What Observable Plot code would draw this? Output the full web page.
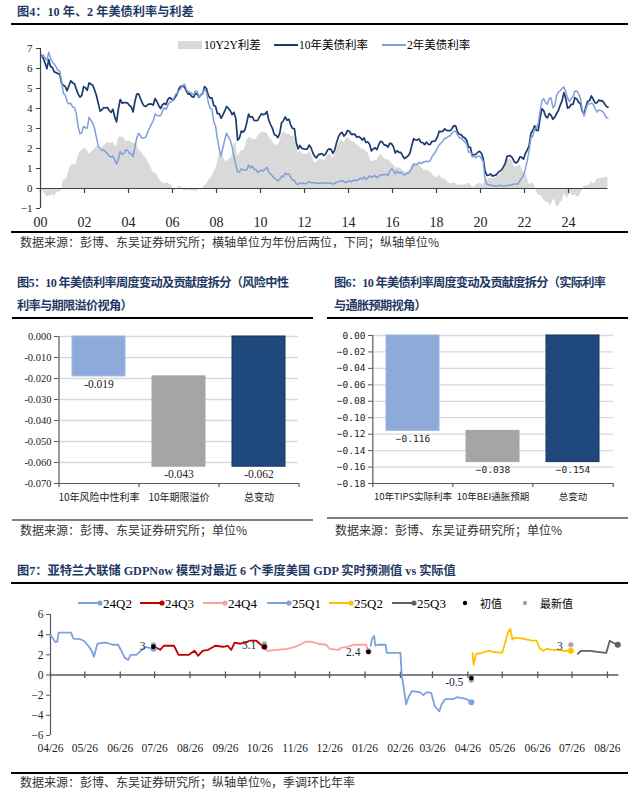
<!DOCTYPE html>
<html><head><meta charset="utf-8">
<script src="https://cdn.jsdelivr.net/npm/d3@7"></script>
<script src="https://cdn.jsdelivr.net/npm/@observablehq/plot@0.6"></script>
<style>
body{margin:0;background:#fff;}
#page{position:relative;width:640px;height:798px;overflow:hidden;background:#fff;}
</style></head><body><div id="page"></div>
<script>
// ---------------- DATA ----------------
// Fig 4: monthly 10Y and 2Y UST yields, Jan 2000 - Oct 2025 (%)
const startYear = 2000;
const t10 = [
6.66,6.52,6.26,5.99,6.44,6.10,6.05,5.83,5.80,5.74,5.72,5.24,
5.16,5.10,4.89,5.14,5.39,5.28,5.24,4.97,4.73,4.57,4.65,5.09,
5.04,4.91,5.28,5.21,5.16,4.93,4.65,4.26,3.87,3.94,4.05,4.03,
4.05,3.90,3.81,3.96,3.57,3.33,3.98,4.45,4.27,4.29,4.30,4.27,
4.15,4.08,3.83,4.35,4.72,4.73,4.50,4.28,4.13,4.10,4.19,4.23,
4.22,4.17,4.50,4.34,4.14,4.00,4.18,4.26,4.20,4.46,4.54,4.47,
4.42,4.57,4.72,4.99,5.11,5.11,5.09,4.88,4.72,4.73,4.60,4.56,
4.76,4.72,4.56,4.69,4.75,5.10,5.00,4.67,4.52,4.53,4.15,4.10,
3.74,3.74,3.51,3.68,3.88,4.10,4.01,3.89,3.69,3.81,3.53,2.42,
2.52,2.87,2.82,2.93,3.29,3.72,3.56,3.59,3.40,3.39,3.40,3.59,
3.73,3.69,3.73,3.85,3.42,3.20,3.01,2.70,2.65,2.54,2.76,3.29,
3.39,3.58,3.41,3.46,3.17,3.00,3.00,2.30,1.98,2.15,2.01,1.98,
1.97,1.97,2.17,2.05,1.80,1.62,1.53,1.68,1.72,1.75,1.65,1.72,
1.91,1.98,1.96,1.76,1.93,2.30,2.58,2.74,2.81,2.62,2.72,2.90,
2.86,2.71,2.72,2.71,2.56,2.60,2.54,2.42,2.53,2.30,2.33,2.21,
1.88,1.98,2.04,1.94,2.20,2.36,2.32,2.17,2.17,2.07,2.26,2.24,
2.09,1.78,1.89,1.81,1.81,1.64,1.50,1.56,1.63,1.76,2.14,2.49,
2.43,2.42,2.48,2.30,2.30,2.19,2.32,2.21,2.20,2.36,2.35,2.40,
2.58,2.86,2.84,2.87,2.98,2.91,2.89,2.89,3.00,3.15,3.12,2.83,
2.71,2.68,2.57,2.53,2.40,2.07,2.06,1.63,1.70,1.71,1.81,1.86,
1.76,1.50,0.87,0.66,0.67,0.73,0.62,0.65,0.68,0.79,0.87,0.93,
1.08,1.26,1.61,1.64,1.62,1.52,1.32,1.28,1.37,1.58,1.56,1.47,
1.76,1.93,2.13,2.75,2.90,3.14,2.90,2.90,3.52,3.98,3.89,3.62,
3.53,3.75,3.66,3.46,3.57,3.75,3.90,4.17,4.38,4.80,4.50,4.02,
4.06,4.21,4.21,4.54,4.48,4.31,4.25,3.87,3.72,4.10,4.36,4.39,
4.63,4.45,4.28,4.28,4.42,4.38,4.39,4.26,4.12,4.06];
const t2 = [
6.58,6.68,6.53,6.40,6.81,6.48,6.34,6.23,6.08,5.91,5.88,5.35,
4.76,4.66,4.34,4.23,4.26,4.08,4.04,3.76,3.12,2.73,2.78,3.11,
3.03,3.02,3.56,3.42,3.26,2.99,2.56,2.13,2.00,1.91,1.92,1.84,
1.74,1.63,1.57,1.62,1.42,1.23,1.47,1.86,1.71,1.75,1.93,1.91,
1.76,1.74,1.58,2.07,2.53,2.76,2.64,2.51,2.53,2.58,2.85,3.01,
3.22,3.38,3.73,3.65,3.64,3.64,3.87,4.04,3.95,4.17,4.33,4.35,
4.45,4.68,4.77,4.90,5.00,5.16,5.22,4.97,4.82,4.83,4.74,4.67,
4.88,4.85,4.57,4.67,4.77,4.96,4.82,4.31,4.01,3.97,3.34,3.12,
2.48,1.97,1.62,2.05,2.45,2.77,2.57,2.42,2.08,1.61,1.21,0.82,
0.81,0.98,0.93,0.93,0.92,1.18,1.02,1.12,0.96,0.95,0.80,0.87,
0.93,0.86,0.96,1.06,0.83,0.72,0.62,0.52,0.47,0.38,0.45,0.62,
0.58,0.77,0.70,0.73,0.56,0.41,0.41,0.23,0.20,0.28,0.25,0.26,
0.24,0.28,0.34,0.29,0.29,0.29,0.25,0.27,0.26,0.28,0.27,0.26,
0.27,0.27,0.26,0.23,0.25,0.33,0.34,0.36,0.40,0.34,0.30,0.34,
0.39,0.33,0.40,0.42,0.39,0.45,0.51,0.47,0.57,0.45,0.53,0.64,
0.55,0.62,0.64,0.54,0.61,0.69,0.67,0.70,0.71,0.64,0.88,0.98,
0.90,0.73,0.88,0.77,0.82,0.73,0.67,0.74,0.77,0.84,0.98,1.20,
1.21,1.20,1.31,1.24,1.30,1.34,1.37,1.34,1.38,1.58,1.71,1.84,
2.03,2.18,2.28,2.38,2.51,2.53,2.61,2.64,2.77,2.86,2.86,2.68,
2.54,2.50,2.41,2.34,2.21,1.81,1.84,1.57,1.65,1.53,1.61,1.61,
1.52,1.33,0.45,0.22,0.17,0.19,0.14,0.14,0.13,0.14,0.17,0.13,
0.13,0.12,0.15,0.16,0.16,0.20,0.22,0.22,0.23,0.39,0.52,0.68,
0.99,1.39,1.91,2.54,2.61,3.00,3.03,3.25,3.86,4.38,4.50,4.29,
4.21,4.51,4.52,4.04,4.13,4.64,4.83,4.88,5.02,5.07,4.85,4.53,
4.34,4.50,4.59,4.86,4.88,4.74,4.50,3.97,3.62,3.97,4.23,4.23,
4.27,4.21,4.00,3.82,3.92,3.90,3.87,3.74,3.55,3.52];
const fig4YTicks = [-1,0,1,2,3,4,5,6,7];
const fig4XTicks = [2000,2002,2004,2006,2008,2010,2012,2014,2016,2018,2020,2022,2024];
const fig4Names = ["10Y2Y利差","10年美债利率","2年美债利率"];

// Fig 5
const fig5Cats = ["10年风险中性利率","10年期限溢价","总变动"];
const fig5Vals = [-0.019,-0.043,-0.062];
const fig5Ticks = [0,-0.01,-0.02,-0.03,-0.04,-0.05,-0.06,-0.07];
// Fig 6
const fig6Cats = ["10年TIPS实际利率","10年BEI通胀预期","总变动"];
const fig6Vals = [-0.116,-0.038,-0.154];
const fig6Ticks = [0,-0.02,-0.04,-0.06,-0.08,-0.10,-0.12,-0.14,-0.16,-0.18];
const barColors = ["#8eaadb","#a5a5a5","#1f497d"];

// Fig 7: GDPNow estimates by quarter
const q24Q2 = [["2024-04-26",4.0],["2024-04-30",3.3],["2024-05-02",3.3],["2024-05-03",4.2],["2024-05-14",4.2],["2024-05-16",3.6],["2024-05-22",3.55],["2024-05-25",3.4],["2024-05-29",2.9],["2024-06-01",2.4],["2024-06-03",1.8],["2024-06-06",3.1],["2024-06-11",3.2],["2024-06-14",3.2],["2024-06-19",3.0],["2024-06-24",3.0],["2024-06-27",2.4],["2024-06-30",1.7],["2024-07-03",1.5],["2024-07-05",2.0],["2024-07-10",2.0],["2024-07-15",2.5],["2024-07-18",2.8],["2024-07-25",2.6]];
const q24Q3 = [["2024-07-26",2.8],["2024-07-31",2.5],["2024-08-03",2.9],["2024-08-12",2.9],["2024-08-16",2.0],["2024-08-25",2.0],["2024-08-30",2.4],["2024-09-02",1.9],["2024-09-06",2.4],["2024-09-11",2.5],["2024-09-17",2.9],["2024-09-24",2.8],["2024-09-28",2.9],["2024-10-01",2.5],["2024-10-04",3.2],["2024-10-09",3.1],["2024-10-13",3.2],["2024-10-17",3.4],["2024-10-23",3.4],["2024-10-27",3.0],["2024-10-30",2.8]];
const q24Q4 = [["2024-10-31",2.7],["2024-11-01",2.4],["2024-11-10",2.5],["2024-11-19",2.6],["2024-11-26",2.8],["2024-11-30",3.0],["2024-12-05",3.3],["2024-12-10",3.3],["2024-12-16",3.1],["2024-12-23",3.0],["2024-12-26",2.6],["2025-01-03",2.5],["2025-01-05",2.7],["2025-01-11",2.8],["2025-01-16",3.0],["2025-01-27",3.0],["2025-01-29",2.3]];
const q25Q1 = [["2025-01-31",2.9],["2025-02-01",3.5],["2025-02-03",3.9],["2025-02-04",2.9],["2025-02-06",3.0],["2025-02-13",3.0],["2025-02-14",2.2],["2025-02-26",2.2],["2025-02-27",0.1],["2025-03-01",-1.4],["2025-03-03",-2.9],["2025-03-05",-2.2],["2025-03-08",-1.6],["2025-03-15",-1.7],["2025-03-18",-2.0],["2025-03-21",-1.7],["2025-03-25",-1.8],["2025-03-28",-3.1],["2025-04-01",-3.6],["2025-04-03",-2.9],["2025-04-06",-2.4],["2025-04-13",-2.4],["2025-04-16",-2.2],["2025-04-21",-2.3],["2025-04-25",-2.4],["2025-04-29",-2.7]];
const q25Q2 = [["2025-04-30",2.2],["2025-05-01",1.0],["2025-05-03",2.1],["2025-05-08",2.2],["2025-05-14",2.4],["2025-05-18",2.3],["2025-05-26",2.2],["2025-05-28",3.0],["2025-05-31",4.2],["2025-06-02",4.6],["2025-06-04",3.5],["2025-06-06",3.7],["2025-06-13",3.6],["2025-06-21",3.4],["2025-06-25",3.4],["2025-06-28",2.6],["2025-07-01",2.4],["2025-07-04",2.6],["2025-07-09",2.5],["2025-07-14",2.5],["2025-07-19",2.4],["2025-07-25",2.4]];
const q25Q3 = [["2025-07-31",2.1],["2025-08-03",2.4],["2025-08-11",2.4],["2025-08-17",2.3],["2025-08-25",2.2],["2025-08-28",3.4],["2025-08-31",3.2],["2025-09-04",3.0]];
const initialVals = [["2024-07-25",2.8],["2024-10-30",2.8],["2025-01-29",2.3],["2025-04-29",-0.3]];
const latestVals = [["2024-07-25",3.0],["2024-10-30",3.1],["2025-01-29",2.4],["2025-04-29",-0.5],["2025-07-25",3.0]];
const fig7Names = ["24Q2","24Q3","24Q4","25Q1","25Q2","25Q3"];
const fig7Colors = ["#7ba2dd","#c00000","#ff9e9e","#7ba2dd","#ffc000","#606060"];
const fig7YTicks = [-6,-4,-2,0,2,4,6];
const fig7XTicks = ["2024-04-26","2024-05-26","2024-06-26","2024-07-26","2024-08-26","2024-09-26","2024-10-26","2024-11-26","2024-12-26","2025-01-26","2025-02-26","2025-03-26","2025-04-26","2025-05-26","2025-06-26","2025-07-26","2025-08-26"];
const fig7Domain = ["2024-04-26","2025-09-05"];

// ---------------- HELPERS ----------------
const SERIF = '"Liberation Serif","Noto Sans CJK SC",serif';
const CJK = '"Noto Sans CJK SC",sans-serif';
const page = document.getElementById("page");
function addText(str, x, yc, size, extra) {
  const d = document.createElement("div");
  d.style.cssText = `position:absolute;left:${x}px;top:${yc - size*0.55}px;font-size:${size}px;line-height:${size}px;white-space:nowrap;${extra||""}`;
  d.textContent = str; page.appendChild(d); return d;
}
function addRule(x1, x2, y, h, color) {
  const d = document.createElement("div");
  d.style.cssText = `position:absolute;left:${x1}px;top:${y - h/2}px;width:${x2-x1}px;height:${h}px;background:${color};`;
  page.appendChild(d);
}
function place(el, x, y) {
  el.style.position = "absolute"; el.style.left = x + "px"; el.style.top = y + "px";
  page.appendChild(el);
}
const titleCss = `font-family:${SERIF};font-weight:700;color:#1f3864;`;
const titleCssTight = titleCss + "letter-spacing:-0.7px;";
const srcCss = `font-family:${CJK};color:#333;`;
const srcText = "数据来源：彭博、东吴证券研究所；";
const TS = 12.2; // title size

// ---------------- FIG 4 ----------------
addText("图4：10 年、2 年美债利率与利差", 17, 13, TS, titleCss);
addRule(11, 628, 24, 2, "#000");
{
  const rows = t10.map((v, i) => ({x: startYear + (i + 0.5) / 12, t10: v, t2: t2[i], spread: v - t2[i]}));
  const xEnd = rows[rows.length - 1].x;
  const svg = Plot.plot({
    width: 640, height: 210, marginLeft: 40, marginRight: 28, marginTop: 18, marginBottom: 32,
    style: {fontFamily: SERIF, color: "#222", background: "transparent", overflow: "visible"},
    x: {domain: [startYear, 2026], label: null}, y: {domain: [-1, 7], label: null},
    marks: [
      Plot.areaY(rows, {x: "x", y: "spread", fill: "#d9d9d9"}),
      Plot.lineY(rows, {x: "x", y: "t10", stroke: "#1c3a70", strokeWidth: 1.7}),
      Plot.lineY(rows, {x: "x", y: "t2", stroke: "#7f9fd8", strokeWidth: 1.5}),
      Plot.ruleY([0], {x1: startYear, x2: xEnd, stroke: "#404040", strokeWidth: 1.2}),
      Plot.ruleX(fig4XTicks, {y1: 0, y2: -0.25, stroke: "#404040", strokeWidth: 1.2}),
      Plot.ruleX([startYear], {y1: -1, y2: 7, stroke: "#404040", strokeWidth: 1.2}),
      Plot.axisY({ticks: fig4YTicks, label: null, tickSize: 4, tickPadding: 4, fontSize: 11, stroke: "#404040"}),
      Plot.axisX({ticks: fig4XTicks, label: null, tickSize: 0, tickPadding: 9, fontSize: 14,
        tickFormat: d => String(d % 100).padStart(2, "0")})
    ]
  });
  place(svg, 0, 30);
  const lg = d3.create("svg").attr("width", 640).attr("height", 20)
    .style("font-family", SERIF).style("font-size", "11.5px");
  lg.append("rect").attr("x", 178).attr("y", 6).attr("width", 24).attr("height", 8).attr("fill", "#d9d9d9");
  lg.append("text").attr("x", 204).attr("y", 10).attr("dominant-baseline", "central").text(fig4Names[0]);
  lg.append("line").attr("x1", 274).attr("x2", 298).attr("y1", 10).attr("y2", 10).attr("stroke", "#1c3a70").attr("stroke-width", 2);
  lg.append("text").attr("x", 299).attr("y", 10).attr("dominant-baseline", "central").text(fig4Names[1]);
  lg.append("line").attr("x1", 382).attr("x2", 406).attr("y1", 10).attr("y2", 10).attr("stroke", "#7f9fd8").attr("stroke-width", 2);
  lg.append("text").attr("x", 407).attr("y", 10).attr("dominant-baseline", "central").text(fig4Names[2]);
  place(lg.node(), 0, 35);
}
addRule(11, 628, 232, 2, "#000");
addText(srcText + "横轴单位为年份后两位，下同；纵轴单位%", 20, 243, 12, srcCss);

// ---------------- FIG 5 / FIG 6 (waterfall bars) ----------------
function waterfall(cats, vals, ticks, opts) {
  const c1 = vals[0], c2 = vals[0] + vals[1];
  const bars = [
    {cat: cats[0], y1: 0, y2: c1, v: vals[0], color: barColors[0], stroke: "#9db6e0"},
    {cat: cats[1], y1: c1, y2: c2, v: vals[1], color: barColors[1], stroke: "#a5a5a5"},
    {cat: cats[2], y1: 0, y2: vals[2], v: vals[2], color: barColors[2], stroke: "#17375e"}
  ];
  const yMin = ticks[ticks.length - 1];
  const {mL, mR, mT, mB, step, fmt, tickFont, tickSize, valFont, valSize, catSize} = opts;
  const pxPer = (200 - mT - mB) / (0 - yMin);
  const tickLen = 4 / pxPer;
  return Plot.plot({
    width: 320, height: 200, marginLeft: mL, marginRight: mR, marginTop: mT, marginBottom: mB,
    style: {fontFamily: SERIF, color: "#222", background: "transparent", overflow: "visible"},
    x: {domain: cats, paddingInner: 0.34, paddingOuter: 0.17, label: null},
    y: {domain: [yMin, 0], label: null},
    marks: [
      Plot.ruleY(ticks.slice(0, -1), {stroke: "#d9d9d9", strokeWidth: 1.3}),
      Plot.barY(bars, {x: "cat", y1: "y1", y2: "y2", fill: "color", stroke: "stroke", strokeWidth: 1}),
      Plot.ruleY([yMin], {stroke: "#595959", strokeWidth: 1.2}),
      Plot.ruleX([cats[0]], {dx: -step / 2, y1: yMin, y2: 0, stroke: "#595959", strokeWidth: 1.2}),
      Plot.ruleX(cats, {dx: -step / 2, y1: yMin, y2: yMin - tickLen, stroke: "#595959", strokeWidth: 1.2}),
      Plot.ruleX([cats[cats.length - 1]], {dx: step / 2, y1: yMin, y2: yMin - tickLen, stroke: "#595959", strokeWidth: 1.2}),
      Plot.text(bars, {x: "cat", y: d => Math.min(d.y1, d.y2), text: d => fmt(d.v, 3), dy: 8,
        fontFamily: valFont, fontSize: valSize, fill: "#222"}),
      Plot.axisY({ticks, label: null, tickSize: 4, tickPadding: 3, tickFormat: d => fmt(d, opts.dec),
        fontFamily: tickFont, fontSize: tickSize, stroke: "#595959"}),
      Plot.axisX({label: null, tickSize: 0, tickPadding: 10, fontFamily: CJK, fontSize: catSize})
    ]
  });
}
// Fig 5
addText("图5：10 年美债利率周度变动及贡献度拆分（风险中性", 17, 284, TS, titleCssTight);
addText("利率与期限溢价视角）", 17, 307, TS, titleCssTight);
addRule(12, 313, 318, 2, "#000");
place(waterfall(fig5Cats, fig5Vals, fig5Ticks, {
  mL: 58, mR: 22, mT: 16, mB: 37, step: 80, dec: 3,
  fmt: (v, n) => v.toFixed(n), tickFont: SERIF, tickSize: 10.5,
  valFont: SERIF, valSize: 11.5, catSize: 10
}), 0, 320);
addRule(12, 313, 520, 2, "#808080");
addText(srcText + "单位%", 20, 531, 12, srcCss);

// Fig 6
addText("图6：10 年美债利率周度变动及贡献度拆分（实际利率", 334, 284, TS, titleCssTight);
addText("与通胀预期视角）", 334, 307, TS, titleCssTight);
addRule(327, 628, 318, 2, "#000");
const mono = '"DejaVu Sans Mono",monospace';
place(waterfall(fig6Cats, fig6Vals, fig6Ticks, {
  mL: 52, mR: 27, mT: 15, mB: 37, step: 241 / 3, dec: 2,
  fmt: (v, n) => v.toFixed(n).replace("-", "−"), tickFont: mono, tickSize: 9.5,
  valFont: mono, valSize: 9.5, catSize: 9.5
}), 320, 320);
addRule(327, 628, 518, 2, "#808080");
addText(srcText + "单位%", 335, 531, 12, srcCss);

// ---------------- FIG 7 ----------------
addText("图7：亚特兰大联储 GDPNow 模型对最近 6 个季度美国 GDP 实时预测值 vs 实际值", 17, 572, TS, titleCss);
addRule(11, 628, 583, 2, "#000");
{
  const P = d3.utcParse("%Y-%m-%d");
  const series = [q24Q2, q24Q3, q24Q4, q25Q1, q25Q2, q25Q3];
  const toPts = arr => arr.map(([d, v]) => ({date: P(d), v}));
  const lines = series.map((s, i) => Plot.line(toPts(s), {x: "date", y: "v", stroke: fig7Colors[i], strokeWidth: 1.8}));
  const ends = series.map((s, i) => ({...toPts(s)[s.length - 1], color: fig7Colors[i]}));
  const init = toPts(initialVals), latest = toPts(latestVals);
  const ticks = fig7XTicks.map(P);
  const dom = fig7Domain.map(P);
  const svg = Plot.plot({
    width: 640, height: 165, marginLeft: 50, marginRight: 21.6, marginTop: 14, marginBottom: 30,
    style: {fontFamily: SERIF, color: "#222", background: "transparent", overflow: "visible"},
    x: {type: "utc", domain: dom, label: null}, y: {domain: [-6, 6], label: null},
    marks: [
      Plot.ruleY([0], {x1: dom[0], x2: dom[1], stroke: "#595959", strokeWidth: 1.5}),
      Plot.ruleX(ticks, {y1: 0.3, y2: -0.35, stroke: "#595959", strokeWidth: 1.3}),
      Plot.ruleX([dom[0]], {y1: -6, y2: 6, stroke: "#595959", strokeWidth: 1.2}),
      ...lines,
      Plot.dot(ends, {x: "date", y: "v", fill: "color", r: 3}),
      Plot.dot(latest, {x: "date", y: "v", fill: "#a6a6a6", r: 2.6}),
      Plot.dot(init, {x: "date", y: "v", fill: "#000", r: 2.4}),
      Plot.text(latest, {x: "date", y: "v", text: d => String(d.v), textAnchor: "end", dx: -8, dy: 2,
        fontSize: 11.5, fill: "#1f2a44"}),
      Plot.axisY({ticks: fig7YTicks, label: null, tickSize: 4, tickPadding: 3, fontSize: 11.5, stroke: "#595959"}),
      Plot.axisX({ticks, label: null, tickSize: 0, tickPadding: 8, fontSize: 11.5, tickFormat: d3.utcFormat("%m/%d")})
    ]
  });
  place(svg, 0, 600);
  const lg = d3.create("svg").attr("width", 640).attr("height", 20).style("font-family", SERIF);
  const lx = [78, 140, 203, 267, 329, 392];
  fig7Names.forEach((n, i) => {
    lg.append("line").attr("x1", lx[i]).attr("x2", lx[i] + 22).attr("y1", 10).attr("y2", 10)
      .attr("stroke", fig7Colors[i]).attr("stroke-width", 2);
    lg.append("circle").attr("cx", lx[i] + 22).attr("cy", 10).attr("r", 2.6).attr("fill", fig7Colors[i]);
    lg.append("text").attr("x", lx[i] + 25).attr("y", 10).attr("dominant-baseline", "central")
      .style("font-size", "13px").text(n);
  });
  lg.append("circle").attr("cx", 465).attr("cy", 10).attr("r", 2.2).attr("fill", "#000");
  lg.append("text").attr("x", 480).attr("y", 10).attr("dominant-baseline", "central")
    .style("font-size", "11px").style("font-family", CJK).text("初值");
  lg.append("circle").attr("cx", 525).attr("cy", 10).attr("r", 2.2).attr("fill", "#a6a6a6");
  lg.append("text").attr("x", 540).attr("y", 10).attr("dominant-baseline", "central")
    .style("font-size", "11px").style("font-family", CJK).text("最新值");
  place(lg.node(), 0, 593);
}
addRule(11, 628, 773, 2, "#000");
addText(srcText + "纵轴单位%，季调环比年率", 20, 783, 12, srcCss);
</script></body></html>
